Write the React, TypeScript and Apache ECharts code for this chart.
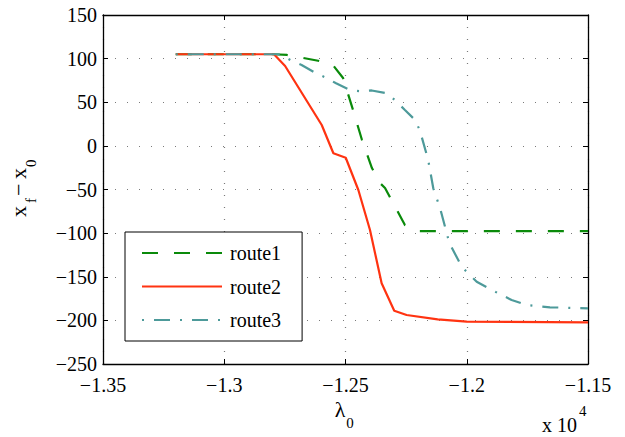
import React, { useEffect, useRef } from "react";
import * as echarts from "echarts";

const seriesNames = ["route1", "route2", "route3"];

const route1X = [-13200, -12800, -12741, -12613, -12552, -12510, -12469, -12432, -12391, -12360, -12337, -12255, -12209, -11500];
const route1Y = [105, 105, 104.2, 97.6, 92.7, 77.8, 41.1, 6.7, -25.4, -42, -48.3, -90.7, -97.6, -97.6];

const route2X = [-13200, -12795, -12749, -12598, -12550, -12499, -12447, -12399, -12351, -12299, -12248, -12120, -12000, -11500];
const route2Y = [105, 105, 91.5, 23.9, -8.5, -13.6, -50.6, -96.4, -157.5, -188.9, -193.8, -198.8, -201.5, -202.3];

const route3X = [-13200, -12770, -12722, -12681, -12626, -12580, -12539, -12481, -12436, -12392, -12330, -12292, -12255, -12213, -12193, -12159, -12138, -12110, -12072, -12021, -11959, -11897, -11815, -11753, -11657, -11500];
const route3Y = [105, 105, 97.6, 92.7, 83.9, 78.1, 71.7, 64, 62.5, 63.5, 60.3, 51.4, 41.1, 29.7, 17.4, -16.2, -48.6, -71.5, -111, -138.5, -155.7, -165.2, -176.6, -182.4, -185, -186.2];

const xTicks = { min: -13500, max: -11500, interval: 500 };
const yTicks = { min: -250, max: 150, interval: 50 };

const colors = ["#0a8a0a", "#ff3311", "#4d9a9a"];
const FONT = "'Liberation Serif', serif";

function pairs(xs: number[], ys: number[]) {
  return xs.map((x, i) => [x, ys[i]]);
}

function fmtX(v: number) {
  const s = String(+(v / 10000).toFixed(4));
  return s.replace("-", "\u2212");
}
function fmtY(v: number) {
  return String(v).replace("-", "\u2212");
}

export default function App() {
  const ref = useRef<HTMLDivElement>(null);
  useEffect(() => {
    document.body.style.margin = "0";
    if (!ref.current) return;
    const chart = echarts.init(ref.current, undefined, { renderer: "svg" });
    const gridLine = { show: true, lineStyle: { type: [1, 11] as any, color: "#7a7a7a", width: 1.2 } };
    const axisLine = { show: true, onZero: false, lineStyle: { color: "#000", width: 1.3 } };
    const tick = { show: true, inside: true, length: 5, lineStyle: { color: "#000", width: 1 } };
    const lbl = { color: "#000", fontFamily: FONT, fontSize: 20 };
    chart.setOption({
      animation: false,
      backgroundColor: "#fff",
      grid: { left: 103, top: 15, right: 37, bottom: 73, containLabel: false },
      xAxis: [
        {
          type: "value", ...xTicks, position: "bottom",
          axisLine, axisTick: tick, splitLine: gridLine,
          axisLabel: { ...lbl, margin: 11, formatter: fmtX },
        },
        {
          type: "value", ...xTicks, position: "top",
          axisLine, axisTick: tick, splitLine: { show: false }, axisLabel: { show: false },
        },
      ],
      yAxis: [
        {
          type: "value", ...yTicks, position: "left",
          axisLine, axisTick: tick, splitLine: gridLine,
          axisLabel: { ...lbl, margin: 6, formatter: fmtY },
        },
        {
          type: "value", ...yTicks, position: "right",
          axisLine, axisTick: tick, splitLine: { show: false }, axisLabel: { show: false },
        },
      ],
      legend: {
        orient: "vertical",
        left: 125,
        top: 232,
        padding: [11, 21, 11, 16],
        itemWidth: 80,
        itemHeight: 14,
        itemGap: 13.5,
        borderColor: "#000",
        borderWidth: 1,
        backgroundColor: "#fff",
        borderRadius: 0,
        itemStyle: { opacity: 0 },
        textStyle: { color: "#000", fontFamily: FONT, fontSize: 20, lineHeight: 20, padding: [0, 0, 0, 3] },
        data: seriesNames,
      },
      series: [
        {
          name: seriesNames[0], type: "line", symbol: "none", data: pairs(route1X, route1Y),
          lineStyle: { color: colors[0], width: 2.2, type: [16, 16] as any },
          itemStyle: { color: colors[0] },
        },
        {
          name: seriesNames[1], type: "line", symbol: "none", data: pairs(route2X, route2Y),
          lineStyle: { color: colors[1], width: 2.2, type: "solid" },
          itemStyle: { color: colors[1] },
        },
        {
          name: seriesNames[2], type: "line", symbol: "none", data: pairs(route3X, route3Y),
          lineStyle: { color: colors[2], width: 2.2, type: [2, 10, 16, 10] as any },
          itemStyle: { color: colors[2] },
        },
      ],
      graphic: [
        {
          type: "group", x: 18.5, y: 217, rotation: Math.PI / 2,
          children: [
            { type: "text", x: 0, y: 0, style: { text: "x", fontFamily: FONT, fontSize: 22, fill: "#000", verticalAlign: "middle" } },
            { type: "text", x: 14, y: 12, style: { text: "f", fontFamily: FONT, fontSize: 15, fill: "#000", verticalAlign: "middle" } },
            { type: "text", x: 21, y: 0, style: { text: "\u2212", fontFamily: FONT, fontSize: 22, fill: "#000", verticalAlign: "middle" } },
            { type: "text", x: 38, y: 0, style: { text: "x", fontFamily: FONT, fontSize: 22, fill: "#000", verticalAlign: "middle" } },
            { type: "text", x: 50, y: 12, style: { text: "0", fontFamily: FONT, fontSize: 15, fill: "#000", verticalAlign: "middle" } },
          ],
        },
        { type: "text", x: 340, y: 409, style: { text: "\u03bb", fontFamily: FONT, fontSize: 22, fill: "#000", align: "center", verticalAlign: "middle" } },
        { type: "text", x: 350, y: 423, style: { text: "0", fontFamily: FONT, fontSize: 15, fill: "#000", align: "center", verticalAlign: "middle" } },
        { type: "text", x: 542, y: 425, style: { text: "x 10", fontFamily: FONT, fontSize: 20, fill: "#000", align: "left", verticalAlign: "middle" } },
        { type: "text", x: 579, y: 411, style: { text: "4", fontFamily: FONT, fontSize: 15, fill: "#000", align: "left", verticalAlign: "middle" } },
      ],
    });
    return () => chart.dispose();
  }, []);
  return <div ref={ref} style={{ width: 625, height: 437 }} />;
}
